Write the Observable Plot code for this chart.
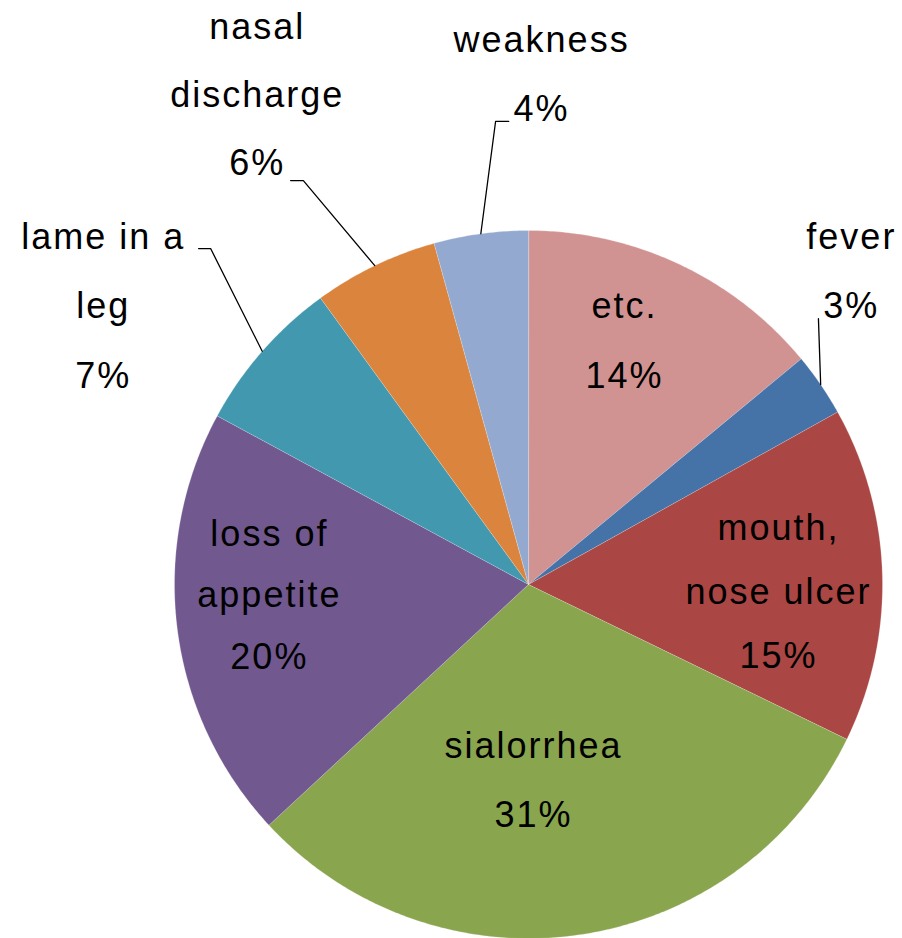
<!DOCTYPE html>
<html>
<head>
<meta charset="utf-8">
<script src="https://cdn.jsdelivr.net/npm/d3@7"></script>
<script src="https://cdn.jsdelivr.net/npm/@observablehq/plot@0.6"></script>
<style>
  html, body { margin: 0; padding: 0; background: #ffffff; }
  #chart svg { display: block; }
</style>
</head>
<body>
<div id="chart"></div>
<script>
// ---- data (clockwise from 12 o'clock) ----
const categories = ["etc.", "fever", "mouth, nose ulcer", "sialorrhea", "loss of appetite", "lame in a leg", "nasal discharge", "weakness"];
const labelLines = [["etc."], ["fever"], ["mouth,", "nose ulcer"], ["sialorrhea"], ["loss of", "appetite"], ["lame in a", "leg"], ["nasal", "discharge"], ["weakness"]];
const shares = [14.0, 2.9, 15.3, 30.9, 19.8, 7.1, 5.7, 4.3];
const colors = ["#D19392", "#4572A7", "#AA4644", "#89A54E", "#71588F", "#4198AF", "#DB843D", "#93A9CF"];

// ---- label layout (in pie-radius units, y up) ----
const labelX = [0.271, 0.912, 0.706, 0.014, -0.732, -1.201, -0.766, 0.037];
const labelY = [0.754, 0.949, 0.127, -0.489, 0.110, 0.949, 1.542, 1.503];
const labelStep = [0.198, 0.195, 0.181, 0.197, 0.174, 0.197, 0.193, 0.195];
// leader line start points (near the label) for outside labels
const leaderIndex = [1, 5, 6, 7];
const leaderStart = [
  [[0.819, 0.751]],
  [[-0.932, 0.949], [-0.898, 0.949]],
  [[-0.672, 1.141], [-0.636, 1.141]],
  [[-0.056, 1.308], [-0.093, 1.308]]
];

// ---- build geometry from data ----
const arcs = d3.pie().sort(null).value(d => d)(shares);
const slicePts = [];
arcs.forEach((p, i) => {
  const cat = categories[i];
  const n = Math.max(2, Math.ceil((p.endAngle - p.startAngle) / (Math.PI / 360)));
  slicePts.push({cat, x: 0, y: 0});
  for (let k = 0; k <= n; k++) {
    const a = p.startAngle + (p.endAngle - p.startAngle) * k / n;
    slicePts.push({cat, x: Math.sin(a), y: Math.cos(a)});
  }
});

const textRows = [];
labelLines.forEach((lines, i) => {
  const all = [...lines, Math.round(shares[i]) + "%"];
  all.forEach((t, j) => textRows.push({t, x: labelX[i], y: labelY[i] - j * labelStep[i]}));
});

const leaderPts = [];
leaderIndex.forEach((i, k) => {
  leaderStart[k].forEach(([x, y]) => leaderPts.push({id: i, x, y}));
  const a = (arcs[i].startAngle + arcs[i].endAngle) / 2;
  leaderPts.push({id: i, x: Math.sin(a), y: Math.cos(a)});
});

const chart = Plot.plot({
  width: 902,
  height: 938,
  margin: 0,
  x: {domain: [-1, 1], range: [174, 882], axis: null},
  y: {domain: [-1, 1], range: [938, 230], axis: null},
  color: {domain: categories, range: colors},
  style: {fontFamily: "'Liberation Sans', Arial, sans-serif", letterSpacing: "2px", background: "#ffffff"},
  marks: [
    Plot.line(slicePts, {x: "x", y: "y", z: "cat", fill: "cat", stroke: "#ffffff", strokeOpacity: 0.45, strokeWidth: 0.5, curve: "linear-closed"}),
    Plot.line(leaderPts, {x: "x", y: "y", z: "id", stroke: "#000000", strokeWidth: 1.3}),
    Plot.text(textRows, {x: "x", y: "y", text: "t", fontSize: 36, lineAnchor: "bottom", textAnchor: "middle", fill: "#000000"})
  ]
});
document.getElementById("chart").appendChild(chart);
</script>
</body>
</html>
